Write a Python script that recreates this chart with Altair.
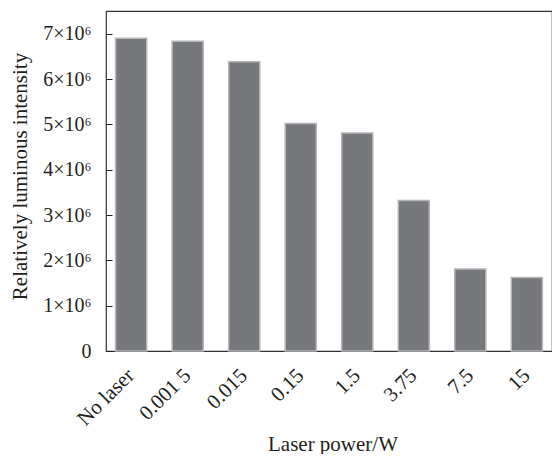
import altair as alt
import pandas as pd

categories = ["No laser", "0.001 5", "0.015", "0.15", "1.5", "3.75", "7.5", "15"]
intensity = [6.90e6, 6.83e6, 6.38e6, 5.02e6, 4.81e6, 3.32e6, 1.81e6, 1.62e6]
y_ticks = [0, 1e6, 2e6, 3e6, 4e6, 5e6, 6e6, 7e6]

df = pd.DataFrame({"power": categories, "intensity": intensity})

FONT = "Liberation Serif"
INK = "#231f20"

label_expr = "datum.value == 0 ? '0' : format(datum.value / 1000000, 'd') + '×10⁶'"

chart = alt.Chart(df).mark_bar(
    color="#77787c", stroke="#b4b5b9", strokeWidth=1.5
).encode(
    x=alt.X(
        "power:N", sort=categories,
        scale=alt.Scale(paddingInner=0.45, paddingOuter=0.17),
        axis=alt.Axis(
            title="Laser power/W", labelAngle=315, labelAlign="right",
            labelBaseline="middle", offset=-6, domain=False, tickSize=6,
            tickColor=INK, labelPadding=21, labelOverlap=False,
            labelFontSize=21,
            titleX=226.5, titleY=105, titleAlign="center",
            titleBaseline="alphabetic",
        ),
    ),
    y=alt.Y(
        "intensity:Q",
        scale=alt.Scale(domain=[0, 7.5e6], nice=False),
        axis=alt.Axis(
            values=y_ticks, labelExpr=label_expr, offset=-6, domain=False,
            tickSize=6, tickColor=INK, labelPadding=15, labelOverlap=False,
            labelFontSize=20,
            title="Relatively luminous intensity", titleAngle=270,
            titleX=-92, titleY=165, titleAlign="center", titleBaseline="middle",
        ),
    ),
).properties(
    width=446, height=340,
    autosize=alt.AutoSizeParams(type="none"),
    padding={"left": 98, "top": 3, "right": 0, "bottom": 103},
).configure_view(
    stroke="#333333", strokeWidth=1.2
).configure_axis(
    labelFont=FONT, titleFont=FONT, titleFontSize=21,
    labelColor=INK, titleColor=INK, titleFontWeight="normal", grid=False,
)

chart.save("out.html", embed_options={"renderer": "svg", "actions": False})
